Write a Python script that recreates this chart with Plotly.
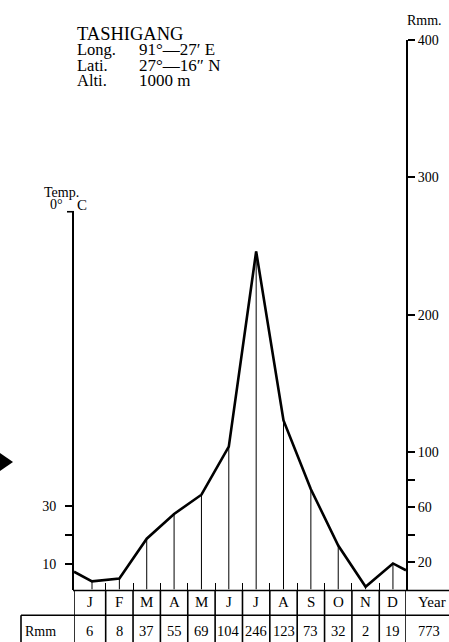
import plotly.graph_objects as go

# ---------------- data ----------------
months = ["J", "F", "M", "A", "M", "J", "J", "A", "S", "O", "N", "D"]
rain_mm = [6, 8, 37, 55, 69, 104, 246, 123, 73, 32, 2, 19]
rain_year = 773
rain_edge_left = 13      # line value where it meets the left (temp) axis
rain_edge_right = 14     # line value where it meets the right (rain) axis
rain_tickvals = [20, 40, 60, 80, 100, 200, 300, 400]
rain_ticktext = ["20", "", "60", "", "100", "200", "300", "400"]
temp_tickvals = [10, 20, 30]
temp_ticktext = ["10", "", "30"]
title_left = ["TASHIGANG", "Long.", "Lati.", "Alti."]
title_right = ["", "91°—27′ E", "27°—16″ N", "1000 m"]

# ---------------- geometry helpers ----------------
W, H = 449, 642
FONT = "Liberation Serif"


def px(x):
    return x / W


def py(y):
    return 1 - y / H


X_LEFT, X_RIGHT = 74, 406
X0, X1 = -0.658, 11.477          # month-index range across the plot width
Y_BOT = 589
TEMP_TOP_VAL = 132.76
TEMP_BOT_VAL = 1.03

fig = go.Figure()

n = len(months)
idx = list(range(n))

# drop lines from each monthly point down to the table
dx, dy = [], []
for i, v in zip(idx, rain_mm):
    dx += [i, i, None]
    dy += [0, v, None]
fig.add_trace(go.Scatter(x=dx, y=dy, mode="lines",
                         line=dict(color="black", width=1),
                         hoverinfo="skip", showlegend=False))

# rainfall line
fig.add_trace(go.Scatter(x=[X0] + idx + [X1],
                         y=[rain_edge_left] + rain_mm + [rain_edge_right],
                         mode="lines",
                         line=dict(color="black", width=2.6),
                         showlegend=False))

# placeholder for temperature axis
fig.add_trace(go.Scatter(x=[None], y=[None], yaxis="y2", showlegend=False))

shapes = []
LW = 1.6


def hline(y, xa, xb, w=LW):
    shapes.append(dict(type="line", xref="paper", yref="paper",
                       x0=px(xa), x1=px(xb), y0=py(y), y1=py(y),
                       line=dict(color="black", width=w)))


def vline_data(x, ya, yb, w=LW):
    shapes.append(dict(type="line", xref="x", yref="paper",
                       x0=x, x1=x, y0=py(ya), y1=py(yb),
                       line=dict(color="black", width=w)))


# table
hline(590, 73, 449)
hline(615, 21, 449)
shapes.append(dict(type="line", xref="paper", yref="paper",
                   x0=px(21), x1=px(21), y0=py(615), y1=py(642),
                   line=dict(color="black", width=LW)))
edges = [X0] + [i + 0.5 for i in range(n - 1)] + [X1]
for e in edges:
    vline_data(e, 590, 642)

# black arrow at left margin
shapes.append(dict(type="path", xref="paper", yref="paper",
                   path=f"M {px(0)} {py(451)} L {px(13)} {py(460)} L {px(0)} {py(469)} Z",
                   fillcolor="black", line=dict(color="black", width=0)))

ann = []


def text(x, y, s, size=16, xanchor="center", xref="paper"):
    ann.append(dict(x=x if xref != "paper" else px(x), y=py(y), xref=xref, yref="paper",
                    text=s, showarrow=False, xanchor=xanchor, yanchor="middle",
                    font=dict(family=FONT, size=size, color="black")))


# table text
centers = [(edges[i] + edges[i + 1]) / 2 for i in range(n)]
for c, m, v in zip(centers, months, rain_mm):
    text(c, 602, m, size=15, xref="x")
    text(c, 631, str(v), size=14.5, xref="x")
text(416, 602, "Year", size=15, xanchor="left")
text(416, 631, str(rain_year), size=14.5, xanchor="left")
text(40, 631, "Rmm", size=14)

# title block
ys = [27, 43, 59, 74]
sizes = [18.5, 16.5, 16.5, 16.5]
for y, a, b, s in zip(ys, title_left, title_right, sizes):
    text(75, y, a, size=s, xanchor="left")
    if b:
        text(137, y, b, size=17, xanchor="left")

# axis titles
text(405, 14, "Rmm.", size=14, xanchor="left")
text(62, 188, "Temp.", size=14)
text(75, 200, "C", size=15, xanchor="left")
text(65, 200, "0°", size=14, xanchor="right")

# tick at top of temperature axis
shapes.append(dict(type="line", xref="paper", yref="paper",
                   x0=px(67), x1=px(74), y0=py(207), y1=py(207),
                   line=dict(color="black", width=LW)))

fig.update_layout(
    width=W, height=H, autosize=False,
    margin=dict(l=0, r=0, t=0, b=0),
    paper_bgcolor="white", plot_bgcolor="rgba(0,0,0,0)",
    shapes=shapes, annotations=ann,
    xaxis=dict(domain=[px(X_LEFT), px(X_RIGHT)], range=[X0, X1],
               showgrid=False, zeroline=False, showline=False,
               tickvals=[i + 0.5 for i in range(n - 1)], ticks="inside",
               ticklen=7, tickwidth=1.2, tickcolor="black",
               showticklabels=False, anchor="y", fixedrange=True),
    yaxis=dict(domain=[py(Y_BOT), py(33)], range=[0, 400], side="right",
               anchor="x", showgrid=False, zeroline=False,
               showline=True, linecolor="black", linewidth=2,
               tickvals=rain_tickvals, ticktext=rain_ticktext,
               ticks="outside", ticklen=7, tickwidth=1.5, tickcolor="black",
               tickfont=dict(family=FONT, size=14, color="black")),
    yaxis2=dict(domain=[py(Y_BOT), py(207)], range=[TEMP_BOT_VAL, TEMP_TOP_VAL],
                side="left", anchor="x", showgrid=False, zeroline=False,
                showline=True, linecolor="black", linewidth=2,
                tickvals=temp_tickvals, ticktext=temp_ticktext,
                ticks="outside", ticklen=7, tickwidth=1.5, tickcolor="black",
                ticklabelstandoff=6,
                tickfont=dict(family=FONT, size=14, color="black")),
)

fig.write_html("out.html")
